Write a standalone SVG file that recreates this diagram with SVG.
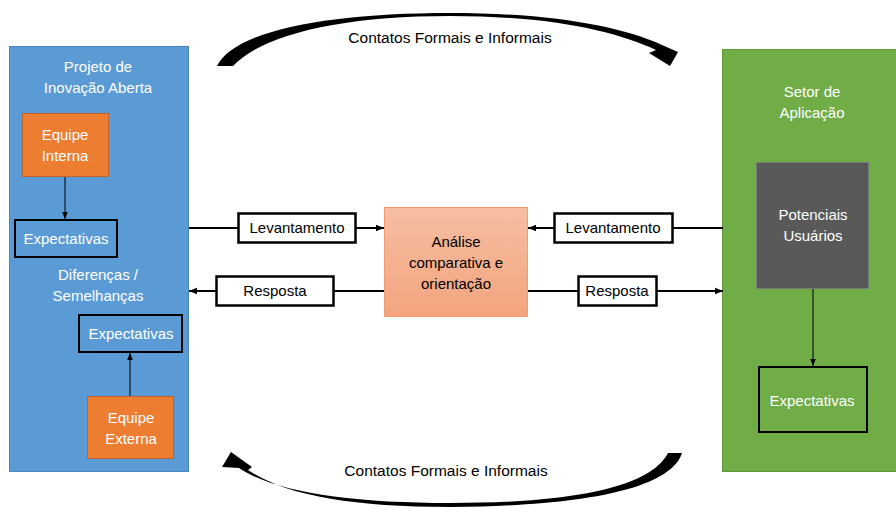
<svg xmlns="http://www.w3.org/2000/svg" width="896" height="508" viewBox="0 0 896 508">
<defs>
<style>
.t{font-family:"Liberation Sans",Arial,sans-serif;font-size:15px;text-anchor:middle}
.w{fill:#fff}
.k{fill:#000}
.exp{fill:none;stroke:#000;stroke-width:2}
.lbl{fill:#fff;stroke:#000;stroke-width:2.5}
.ln{stroke:#000;stroke-width:2;fill:none}
.thin{stroke:#000;stroke-width:1;fill:none}
.org{fill:#ED7D31;stroke:#C0632A;stroke-width:1}
</style>
<linearGradient id="og" x1="0" y1="0" x2="0" y2="1">
<stop offset="0" stop-color="#F6BEA2"/>
<stop offset="1" stop-color="#F3A47E"/>
</linearGradient>
<marker id="ah" viewBox="0 0 10 10" refX="10" refY="5" markerWidth="4" markerHeight="4" orient="auto" markerUnits="strokeWidth">
<path d="M0,1 L10,5 L0,9 Z" fill="#000"/>
</marker>
<marker id="ahs" viewBox="0 0 10 10" refX="10" refY="5" markerWidth="7" markerHeight="7" orient="auto" markerUnits="strokeWidth">
<path d="M0,1 L10,5 L0,9 Z" fill="#000"/>
</marker>
</defs>
<rect width="896" height="508" fill="#fff"/>

<g id="projeto">
<rect x="9.5" y="46.5" width="179" height="425" fill="#5B9BD5" stroke="#4A86BD" stroke-width="1"/>
<text class="t w" x="98" y="72">Projeto de</text>
<text class="t w" x="98" y="93">Inovação Aberta</text>
</g>

<g id="equipe-interna">
<rect class="org" x="22.5" y="113.5" width="86" height="63"/>
<text class="t w" x="65" y="140">Equipe</text>
<text class="t w" x="65" y="161">Interna</text>
</g>

<g id="expectativas-1">
<rect class="exp" x="15" y="220" width="102" height="37"/>
<text class="t w" x="66" y="244">Expectativas</text>
</g>

<g id="diferencas">
<text class="t w" x="98" y="280">Diferenças /</text>
<text class="t w" x="98" y="301">Semelhanças</text>
</g>

<g id="expectativas-2">
<rect class="exp" x="79" y="315" width="103" height="37"/>
<text class="t w" x="131" y="339">Expectativas</text>
</g>

<g id="equipe-externa">
<rect class="org" x="87.5" y="396.5" width="86" height="62"/>
<text class="t w" x="131" y="423">Equipe</text>
<text class="t w" x="131" y="444">Externa</text>
</g>

<g id="setor">
<rect x="722.5" y="49.5" width="180" height="422" fill="#70AD47" stroke="#5E9A38" stroke-width="1"/>
<text class="t w" x="812" y="97">Setor de</text>
<text class="t w" x="812" y="118">Aplicação</text>
</g>

<g id="potenciais">
<rect x="756.5" y="162.5" width="112" height="126" fill="#595959" stroke="#7A7A7A" stroke-width="1"/>
<text class="t w" x="813" y="220">Potenciais</text>
<text class="t w" x="813" y="241">Usuários</text>
</g>

<g id="expectativas-3">
<rect class="exp" x="759" y="367" width="108" height="65"/>
<text class="t w" x="812" y="406">Expectativas</text>
</g>

<g id="analise">
<rect x="384.5" y="207.5" width="143" height="109" fill="url(#og)" stroke="#F29B72" stroke-width="1"/>
<text class="t k" x="456" y="247">Análise</text>
<text class="t k" x="456" y="268">comparativa e</text>
<text class="t k" x="456" y="289">orientação</text>
</g>

<g id="connectors">
<line class="thin" x1="65" y1="177" x2="65" y2="219" marker-end="url(#ahs)"/>
<line class="thin" x1="130" y1="396" x2="130" y2="353" marker-end="url(#ahs)"/>
<line class="thin" x1="813" y1="289" x2="813" y2="366" marker-end="url(#ahs)"/>

<line class="ln" x1="189" y1="228" x2="384" y2="228" marker-end="url(#ah)"/>
<line class="ln" x1="384" y1="291" x2="189" y2="291" marker-end="url(#ah)"/>
<line class="ln" x1="723" y1="228" x2="528" y2="228" marker-end="url(#ah)"/>
<line class="ln" x1="528" y1="291" x2="723" y2="291" marker-end="url(#ah)"/>

<path d="M217,66 C235,30 330,13 450,13 C550,13 620,26 662,45 L678,52 L670,66 L649,53 L656,50 C615,31 550,16 450,16 C340,16 262,35 233,66 Z" fill="#000"/>
<path d="M682,453 C670,490 580,506 450,507 C350,507 285,495 248,470 L252,467 L231,452 L222,467 L239,468 C275,492 350,503 450,503 C570,503 650,488 668,453 Z" fill="#000"/>
</g>

<g id="labels">
<rect class="lbl" x="238.5" y="213.5" width="117" height="29"/>
<text class="t k" x="297" y="233">Levantamento</text>
<rect class="lbl" x="216.5" y="276.5" width="117" height="29"/>
<text class="t k" x="275" y="296">Resposta</text>
<rect class="lbl" x="554.5" y="213.5" width="118" height="29"/>
<text class="t k" x="613" y="233">Levantamento</text>
<rect class="lbl" x="578.5" y="276.5" width="78" height="29"/>
<text class="t k" x="617" y="296">Resposta</text>
<text class="t k" x="450" y="43" style="font-size:15.5px">Contatos Formais e Informais</text>
<text class="t k" x="446" y="476" style="font-size:15.5px">Contatos Formais e Informais</text>
</g>
</svg>
